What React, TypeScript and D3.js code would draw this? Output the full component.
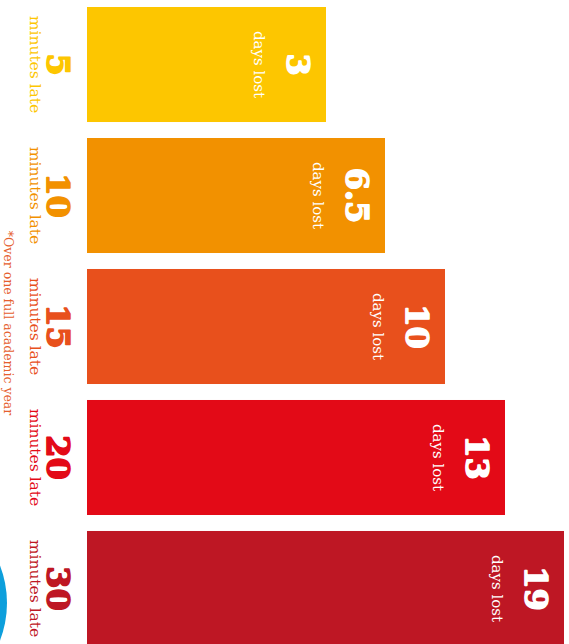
import { useEffect, useRef } from "react";
import * as d3 from "d3";

// data
const minutesLate = ["5", "10", "15", "20", "30"];
const daysLost = [3, 6.5, 10, 13, 19];
const barColors = ["#fdc600", "#f29100", "#e8501c", "#e30a17", "#be1724"];

const W = 569;
const H = 644;

export default function App() {
  const ref = useRef<SVGSVGElement>(null);

  useEffect(() => {
    if (!ref.current) return;
    const svg = d3.select(ref.current);
    svg.selectAll("*").remove();

    // band position of each bar (vertical, since the graphic is turned)
    const y = d3
      .scaleBand<string>()
      .domain(minutesLate)
      .range([7, 646])
      .paddingInner(0.122)
      .paddingOuter(0);

    // the infographic uses a stepped (non proportional) length scale
    const x = d3
      .scaleLinear()
      .domain(daysLost)
      .range([326, 385, 445, 505, 564]);

    const x0 = 87;

    // blue logo circle, cut by the left edge
    svg
      .append("circle")
      .attr("cx", -97)
      .attr("cy", 603)
      .attr("r", 104)
      .style("fill", "#0d9fdc");

    const rows = svg
      .selectAll(".row")
      .data(minutesLate)
      .enter()
      .append("g")
      .attr("class", "row");

    rows
      .append("rect")
      .attr("x", x0)
      .attr("y", (d) => y(d)!)
      .attr("width", (d, i) => x(daysLost[i]) - x0)
      .attr("height", y.bandwidth())
      .style("fill", (d, i) => barColors[i]);

    const rot = (px: number, py: number) => `translate(${px},${py}) rotate(90)`;
    const mid = (d: string) => y(d)! + y.bandwidth() / 2;

    // left labels
    rows
      .append("text")
      .attr("transform", (d) => rot(47, mid(d)))
      .attr("text-anchor", "middle")
      .style("font-family", "'DejaVu Serif'")
      .style("font-weight", "bold")
      .style("font-size", "32px")
      .style("fill", (d, i) => barColors[i])
      .style("stroke", (d, i) => barColors[i])
      .style("stroke-width", 1.6)
      .style("stroke-linejoin", "round")
      .text((d) => d);

    rows
      .append("text")
      .attr("transform", (d) => rot(30, mid(d)))
      .attr("text-anchor", "middle")
      .style("font-family", "'DejaVu Serif'")
      .style("font-size", "15.5px")
      .style("fill", (d, i) => barColors[i])
      .text("minutes late");

    // labels inside the bars
    rows
      .append("text")
      .attr("transform", (d, i) => rot(x(daysLost[i]) - 39, mid(d)))
      .attr("text-anchor", "middle")
      .style("font-family", "'DejaVu Serif'")
      .style("font-weight", "bold")
      .style("font-size", "32px")
      .style("fill", "#ffffff")
      .style("stroke", "#ffffff")
      .style("stroke-width", 1.6)
      .style("stroke-linejoin", "round")
      .text((d, i) => String(daysLost[i]));

    rows
      .append("text")
      .attr("transform", (d, i) => rot(x(daysLost[i]) - 72, mid(d)))
      .attr("text-anchor", "middle")
      .style("font-family", "'DejaVu Serif'")
      .style("font-size", "15px")
      .style("fill", "#ffffff")
      .text("days lost");

    // footnote
    svg
      .append("text")
      .attr("transform", rot(4, 323))
      .attr("text-anchor", "middle")
      .style("font-family", "'DejaVu Serif'")
      .style("font-size", "12.5px")
      .style("fill", "#e5602e")
      .text("*Over one full academic year");
  }, []);

  return (
    <svg
      ref={ref}
      width={W}
      height={H}
      viewBox={`0 0 ${W} ${H}`}
      style={{ position: "absolute", left: 0, top: 0, background: "#ffffff" }}
    />
  );
}
